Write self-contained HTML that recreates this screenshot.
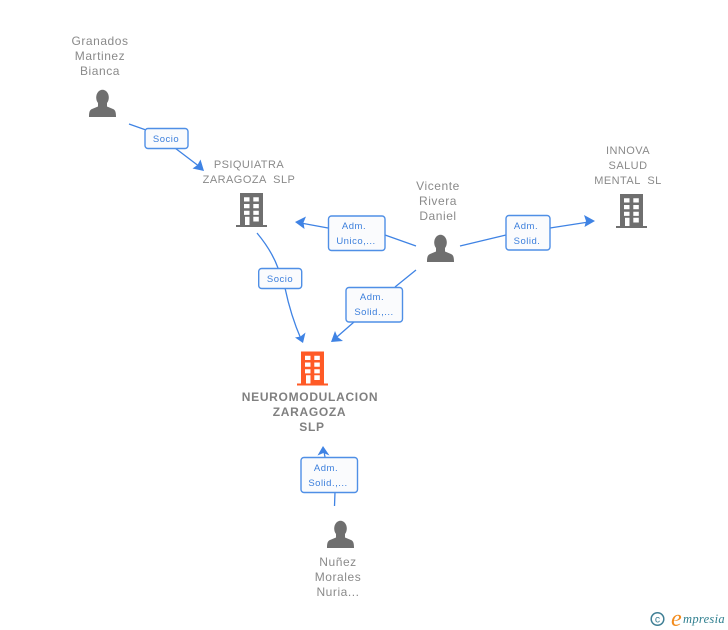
<!DOCTYPE html>
<html><head><meta charset="utf-8">
<style>
html,body{margin:0;padding:0;background:#fff}
svg{display:block}
text{font-family:"Liberation Sans",sans-serif;white-space:pre}
.n{font-size:12px;fill:#8a8a8a;text-anchor:middle;letter-spacing:.55px}
.c{font-size:11px;fill:#8a8a8a;text-anchor:middle;letter-spacing:.45px}
.m{font-size:12px;fill:#808080;font-weight:bold;text-anchor:middle;letter-spacing:.7px}
.l{font-size:9.5px;fill:#3c7fdc;text-anchor:middle;letter-spacing:.5px}
.e{stroke:#3f83e4;stroke-width:1.3;fill:none}
.a{fill:#3f83e4}
.b{fill:#fafbfd;stroke:#4f8fe6;stroke-width:1.4}
</style></head><body>
<svg width="728" height="630" viewBox="0 0 728 630" xmlns="http://www.w3.org/2000/svg">
<defs>
<g id="p"><ellipse cx="102.5" cy="97.500" rx="6.300" ry="7.800"/><path d="M98 103h9v3.500l6 2.500c2.300 1 3 3 3 8H89c0-5 .7-7 3-8l6-2.500z"/></g>
<g id="bd"><path fill-rule="evenodd" d="M240 193h23v32h4v2h-31v-2h4zM244 197.300v4.200h5.500v-4.200zM253.300 197.300v4.200h5.500v-4.200zM244 204v4.200h5.500v-4.200zM253.300 204v4.200h5.500v-4.200zM244 210.700v4.200h5.500v-4.200zM253.300 210.700v4.200h5.500v-4.200zM245 216.700v8.300h4.500v-8.300zM253.300 216.700v4.800h5.500v-4.800z"/></g>
</defs>

<path class="e" d="M129 124L146 130M175 148L200 167"/>
<path class="a" d="M204 171L192.500 168.500L197.500 165L200.500 159.500z"/>
<path class="e" d="M257 233C267 245 274 257 278 268M285 288C289 307 294 323 301 339"/>
<path class="a" d="M303 343L295 337.500L300.500 336.500L305.500 332.500z"/>
<path class="e" d="M416 246L385 235M328 228L298 222.500"/>
<path class="a" d="M295 222L306 216.500L303.500 222.500L304.500 229z"/>
<path class="e" d="M416 270L395 287M354 322L334 339.500"/>
<path class="a" d="M331 342L335 331L337.500 337L343 341z"/>
<path class="e" d="M460 246L506 235M550 228L592 221.500"/>
<path class="a" d="M595 221L584.500 227L586 221L584 215z"/>
<path class="e" d="M334.500 506L335 492M325 457L323.500 449"/>
<path class="a" d="M323 446L329.500 455.500L323.500 453L317.500 455.500z"/>

<rect class="b" x="145" y="128.500" width="43" height="20" rx="3"/>
<text class="l" x="166" y="142">Socio</text>
<rect class="b" x="258.700" y="268.500" width="43" height="20" rx="3"/>
<text class="l" x="280" y="282">Socio</text>
<rect class="b" x="328.500" y="216" width="56.500" height="34.500" rx="3"/>
<text class="l" x="354" y="229">Adm.</text>
<text class="l" x="356" y="244">Unico,...</text>
<rect class="b" x="346" y="287.500" width="56.500" height="34.500" rx="3"/>
<text class="l" x="372" y="300">Adm.</text>
<text class="l" x="374" y="315">Solid.,...</text>
<rect class="b" x="506" y="215.500" width="44" height="34.500" rx="3"/>
<text class="l" x="526" y="229">Adm.</text>
<text class="l" x="527" y="244">Solid.</text>
<rect class="b" x="301" y="457.500" width="56.500" height="35" rx="3"/>
<text class="l" x="326" y="471">Adm.</text>
<text class="l" x="328" y="486">Solid.,...</text>

<use href="#p" fill="#6f6f6f"/>
<use href="#p" fill="#6f6f6f" x="338" y="145"/>
<use href="#p" fill="#6f6f6f" x="238" y="431"/>
<use href="#bd" fill="#6f6f6f"/>
<use href="#bd" fill="#6f6f6f" x="380" y="1"/>
<use href="#bd" fill="#ff5a26" x="61" y="158.500"/>

<text class="n" x="100" y="45">Granados</text>
<text class="n" x="100" y="60">Martinez</text>
<text class="n" x="100" y="75">Bianca</text>
<text class="c" x="249" y="168">PSIQUIATRA</text>
<text class="c" x="249" y="183">ZARAGOZA  SLP</text>
<text class="n" x="438" y="190">Vicente</text>
<text class="n" x="438" y="205">Rivera</text>
<text class="n" x="438" y="220">Daniel</text>
<text class="c" x="628" y="154">INNOVA</text>
<text class="c" x="628" y="169">SALUD</text>
<text class="c" x="628" y="184">MENTAL  SL</text>
<text class="m" x="310" y="401">NEUROMODULACION</text>
<text class="m" x="309.500" y="416">ZARAGOZA</text>
<text class="m" x="312" y="431">SLP</text>
<text class="n" x="338" y="566">Nuñez</text>
<text class="n" x="338" y="581">Morales</text>
<text class="n" x="338" y="596">Nuria...</text>

<circle cx="657.500" cy="619" r="6.300" fill="none" stroke="#3f7f95" stroke-width="1.500"/>
<text x="657.500" y="622.500" font-size="10.500" fill="#3f7f95" text-anchor="middle">c</text>
<text x="671" y="626" font-size="24" fill="#f28c1e" font-style="italic" style="font-family:'Liberation Serif',serif">e</text>
<text x="683" y="623" font-size="12.500" fill="#2f7f8f" font-style="italic" letter-spacing=".3" style="font-family:'Liberation Serif',serif">mpresia</text>
</svg>
</body></html>
